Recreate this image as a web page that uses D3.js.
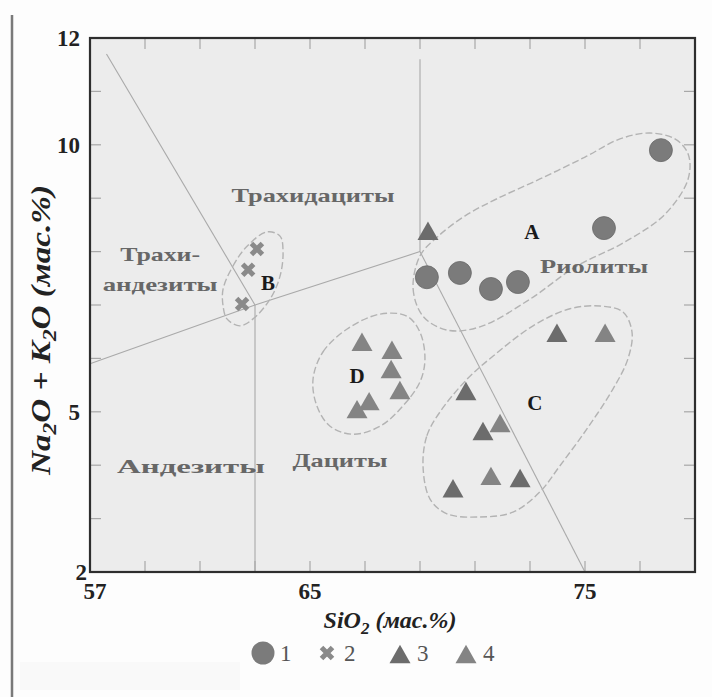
<!DOCTYPE html>
<html><head><meta charset="utf-8">
<script src="https://cdn.jsdelivr.net/npm/d3@7/dist/d3.min.js"></script>
<style>body{margin:0;background:#fff;} svg{display:block;}</style>
</head><body><svg id="c" width="712" height="697"></svg>
<script>
// ---- data ----
const xDomain = [57, 79];
const yDomain = [2, 12];
const xTickLabels = [57, 65, 75];
const yTickLabels = [12, 10, 5, 2];
const xMinorTicks = [59, 61, 63, 65, 67, 69, 71, 73, 75, 77];
const yMinorTicks = [3, 4, 5, 6, 7, 8, 9, 10, 11];

// series: [SiO2, Na2O+K2O]
const series1 = [[69.25,7.52],[70.45,7.60],[71.58,7.30],[72.56,7.43],[75.69,8.44],[77.76,9.90]];
const series2 = [[63.07,8.05],[62.75,7.66],[62.53,7.02]];
const series3 = [[69.29,8.39],[73.98,6.48],[70.67,5.39],[71.29,4.64],[70.2,3.57],[72.64,3.76]];
const series4 = [[75.73,6.48],[71.91,4.79],[71.58,3.80],[66.89,6.31],[67.98,6.16],[67.95,5.80],[68.27,5.41],[67.15,5.20],[66.71,5.05]];

// TAS boundary lines
const tasLines = [
  [[57,5.9],[63,7],[69,8]],
  [[57.6,11.7],[63,7]],
  [[63,7],[63,2]],
  [[69,8],[69,11.6]],
  [[69,8],[75,2]]
];

// group outlines
const outlineA = [[69.0,7.92],[68.75,7.30],[69.11,6.79],[69.98,6.53],[71.18,6.59],[73.0,7.11],[74.64,7.71],[76.45,8.18],[77.91,8.70],[78.75,9.36],[78.75,9.83],[78.27,10.11],[77.36,10.22],[76.27,10.11],[75.0,9.77],[73.36,9.36],[71.8,8.99],[70.64,8.67],[69.62,8.27]];
const outlineB = [[61.84,7.30],[62.2,7.73],[62.71,8.10],[63.44,8.37],[63.91,8.29],[64.02,7.99],[63.91,7.54],[63.55,7.11],[62.93,6.74],[62.45,6.61],[61.98,6.74],[61.84,6.98]];
const outlineC = [[69.11,3.99],[69.25,4.55],[69.73,5.0],[70.71,5.61],[71.65,6.04],[73.11,6.61],[74.45,6.93],[75.55,6.98],[76.38,6.87],[76.71,6.49],[76.56,5.99],[76.02,5.43],[75.07,4.68],[74.09,3.99],[73.36,3.50],[72.38,3.12],[71.18,3.03],[69.98,3.09],[69.36,3.37]];
const outlineD = [[65.11,5.61],[65.47,6.12],[66.35,6.55],[67.55,6.83],[68.53,6.79],[69.0,6.49],[69.18,5.99],[69.0,5.56],[68.38,5.11],[67.55,4.73],[66.56,4.58],[65.73,4.73],[65.25,5.11]];

const fieldNames = ["Трахидациты","Трахи-","андезиты","Риолиты","Андезиты","Дациты"];
const fieldAt = [[65.11,8.93],[59.55,7.82],[59.55,7.26],[75.33,7.6],[60.67,3.85],[66.09,3.97]];
const groupNames = ["A","B","C","D"];
const groupAt = [[73.07,8.24],[63.47,7.28],[73.18,5.03],[66.71,5.54]];
const legendLabels = ["1","2","3","4"];

// ---- drawing ----
const svg = d3.select("#c");
const L = 90, R = 695, T = 38, B = 572;
const x = d3.scaleLinear().domain(xDomain).range([L, R]);
const y = d3.scaleLinear().domain(yDomain).range([B, T]);
const serif = "'Liberation Serif','DejaVu Serif',serif";

svg.append("rect").attr("width",712).attr("height",697).attr("fill","#fdfdfd");
svg.append("rect").attr("x",20).attr("y",662).attr("width",220).attr("height",28).attr("fill","#f9f9f9");
svg.append("line").attr("x1",12).attr("x2",12).attr("y1",15).attr("y2",697).attr("stroke","#7a7a7a").attr("stroke-width",2.5);

svg.append("rect").attr("x",L).attr("y",T).attr("width",R-L).attr("height",B-T).attr("fill","#ececec");

// ticks (inward)
const tk = svg.append("g").attr("stroke","#a8a8a8").attr("stroke-width",1.2);
xMinorTicks.forEach(v=>{
  tk.append("line").attr("x1",x(v)).attr("x2",x(v)).attr("y1",B).attr("y2",B-11);
  tk.append("line").attr("x1",x(v)).attr("x2",x(v)).attr("y1",T).attr("y2",T+11);
});
yMinorTicks.forEach(v=>{
  tk.append("line").attr("x1",L).attr("x2",L+11).attr("y1",y(v)).attr("y2",y(v));
  tk.append("line").attr("x1",R).attr("x2",R-11).attr("y1",y(v)).attr("y2",y(v));
});

// TAS lines
const line = d3.line().x(d=>x(d[0])).y(d=>y(d[1]));
svg.append("g").selectAll("path").data(tasLines).join("path")
  .attr("d", line).attr("fill","none").attr("stroke","#a9a9a9").attr("stroke-width",1.1);

// outlines
const closed = d3.line().x(d=>x(d[0])).y(d=>y(d[1])).curve(d3.curveCatmullRomClosed.alpha(0.5));
svg.append("g").selectAll("path").data([outlineA,outlineB,outlineC,outlineD]).join("path")
  .attr("d", closed).attr("fill","none").attr("stroke","#b3b3b3").attr("stroke-width",1.4)
  .attr("stroke-dasharray","7,3");

// frame
svg.append("rect").attr("x",L).attr("y",T).attr("width",R-L).attr("height",B-T)
  .attr("fill","none").attr("stroke","#2e2e2e").attr("stroke-width",2.2);

// field labels
const fieldWidths = [163, 80, 115, 108, 148, 95];
svg.append("g").selectAll("text").data(fieldNames).join("text")
  .attr("x",(d,i)=>x(fieldAt[i][0])).attr("y",(d,i)=>y(fieldAt[i][1]))
  .attr("text-anchor","middle").attr("font-family",serif).attr("font-weight","bold")
  .attr("font-size",19).attr("fill","#676767")
  .attr("textLength",(d,i)=>fieldWidths[i]).attr("lengthAdjust","spacingAndGlyphs")
  .text(d=>d);

svg.append("g").selectAll("text").data(groupNames).join("text")
  .attr("x",(d,i)=>x(groupAt[i][0])).attr("y",(d,i)=>y(groupAt[i][1]))
  .attr("text-anchor","middle").attr("font-family",serif).attr("font-weight","bold")
  .attr("font-size",21).attr("fill","#1a1a1a").text(d=>d);

// markers
const C1 = "#7b7b7b", C2 = "#8a8a8a", C3 = "#6c6c6c", C4 = "#848484";
const triPath = (cx,cy,s)=>{const h=s*0.88; return `M${cx},${cy-h/2}L${cx+s/2},${cy+h/2}L${cx-s/2},${cy+h/2}Z`;};
const crossPath = (cx,cy,s)=>{const a=s/2; return `M${cx-a},${cy-a}L${cx+a},${cy+a}M${cx+a},${cy-a}L${cx-a},${cy+a}`;};

svg.append("g").selectAll("circle").data(series1).join("circle")
  .attr("cx",d=>x(d[0])).attr("cy",d=>y(d[1])).attr("r",11.5).attr("fill",C1).attr("stroke","#6a6a6a").attr("stroke-width",0.8);
svg.append("g").selectAll("path").data(series2).join("path")
  .attr("d",d=>crossPath(x(d[0]),y(d[1]),11)).attr("stroke",C2).attr("stroke-width",5);
svg.append("g").selectAll("path").data(series3).join("path")
  .attr("d",d=>triPath(x(d[0]),y(d[1]),21)).attr("fill",C3);
svg.append("g").selectAll("path").data(series4).join("path")
  .attr("d",d=>triPath(x(d[0]),y(d[1]),21)).attr("fill",C4);

// tick labels
svg.append("g").selectAll("text").data(yTickLabels).join("text")
  .attr("x",d=> d===2 ? L-3 : L-10).attr("y",d=>y(d)+8)
  .attr("text-anchor","end").attr("font-family",serif).attr("font-weight","bold")
  .attr("font-size",23).attr("fill","#222").text(d=>d);
svg.append("g").selectAll("text").data(xTickLabels).join("text")
  .attr("x",d=>x(d)+ (d===57?5:0)).attr("y",B+27)
  .attr("text-anchor","middle").attr("font-family",serif).attr("font-weight","bold")
  .attr("font-size",23).attr("fill","#222").text(d=>d);

// axis titles
const xt = svg.append("text").attr("x",390).attr("y",628).attr("text-anchor","middle")
  .attr("font-family",serif).attr("font-weight","bold").attr("font-style","italic")
  .attr("font-size",24).attr("fill","#222");
xt.append("tspan").text("SiO");
xt.append("tspan").attr("font-size",17).attr("dy",6).text("2");
xt.append("tspan").attr("dy",-6).text(" (мас.%)");

const yt = svg.append("text").attr("transform","translate(50,330) rotate(-90)").attr("text-anchor","middle")
  .attr("font-family",serif).attr("font-weight","bold").attr("font-style","italic")
  .attr("font-size",27).attr("fill","#222")
  .attr("textLength",290).attr("lengthAdjust","spacingAndGlyphs");
yt.append("tspan").text("Na");
yt.append("tspan").attr("font-size",19).attr("dy",6).text("2");
yt.append("tspan").attr("dy",-6).text("O + K");
yt.append("tspan").attr("font-size",19).attr("dy",6).text("2");
yt.append("tspan").attr("dy",-6).text("O (мас.%)");

// legend
const lg = svg.append("g");
const ly = 653;
const lx = [263, 327, 400, 466];
lg.append("circle").attr("cx",lx[0]).attr("cy",ly).attr("r",11.5).attr("fill",C1);
lg.append("path").attr("d",crossPath(lx[1],ly,11)).attr("stroke",C2).attr("stroke-width",5);
lg.append("path").attr("d",triPath(lx[2],ly+1,21)).attr("fill",C3);
lg.append("path").attr("d",triPath(lx[3],ly+1,21)).attr("fill",C4);
lg.selectAll("text").data(legendLabels).join("text")
  .attr("x",(d,i)=>lx[i]+17).attr("y",ly+8).attr("font-family",serif)
  .attr("font-size",23).attr("fill","#555").text(d=>d);
</script></body></html>
